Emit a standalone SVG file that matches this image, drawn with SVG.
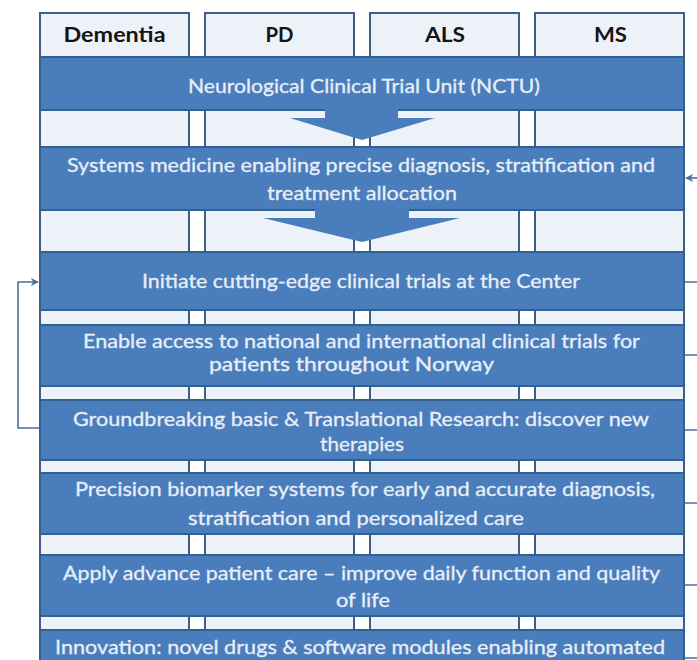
<svg xmlns="http://www.w3.org/2000/svg" width="697" height="660" viewBox="0 0 697 660">
  <style>
    .col { fill: #EDF1F8; stroke: #3D5E86; stroke-width: 2; }
    .band { fill: #4A7DBC; stroke: #34608F; stroke-width: 2; }
    .head { font-family: Lato, "Liberation Sans", sans-serif; font-weight: bold; font-size: 21px; fill: #141414; text-anchor: middle; }
    .lbl { font-family: Lato, "Liberation Sans", sans-serif; font-size: 19px; fill: #E8EEF7; stroke: #E8EEF7; stroke-width: 0.3; text-anchor: middle; }
    .blk { fill: #4A7DBC; }
    .wire { fill: none; stroke: #4A6E9C; stroke-width: 1.6; }
  </style>
  <defs>
    <marker id="tip" viewBox="0 0 10 10" refX="9" refY="5" markerWidth="8" markerHeight="8" markerUnits="userSpaceOnUse" orient="auto">
      <path d="M0,0 L10,5 L0,10 L3,5 z" fill="#4A6E9C"/>
    </marker>
  </defs>

  <!-- disease columns -->
  <g id="col-dementia"><rect class="col" x="40" y="13" width="149" height="700"/><text class="head" x="114.5" y="42" textLength="102" lengthAdjust="spacingAndGlyphs">Dementia</text></g>
  <g id="col-pd"><rect class="col" x="205" y="13" width="149" height="700"/><text class="head" x="279.5" y="42" textLength="28" lengthAdjust="spacingAndGlyphs">PD</text></g>
  <g id="col-als"><rect class="col" x="370" y="13" width="149" height="700"/><text class="head" x="445" y="42" textLength="40" lengthAdjust="spacingAndGlyphs">ALS</text></g>
  <g id="col-ms"><rect class="col" x="535" y="13" width="149" height="700"/><text class="head" x="610.5" y="42" textLength="33" lengthAdjust="spacingAndGlyphs">MS</text></g>

  <!-- horizontal bands -->
  <g id="nctu"><rect class="band" x="40" y="57" width="644" height="53"/>
    <text class="lbl" x="364" y="93" textLength="352" lengthAdjust="spacingAndGlyphs">Neurological Clinical Trial Unit (NCTU)</text></g>
  <g id="systems"><rect class="band" x="40" y="147" width="644" height="63"/>
    <text class="lbl" x="361" y="172" textLength="588" lengthAdjust="spacingAndGlyphs">Systems medicine enabling precise diagnosis, stratification and</text>
    <text class="lbl" x="362" y="200" textLength="190" lengthAdjust="spacingAndGlyphs">treatment allocation</text></g>
  <g id="initiate"><rect class="band" x="40" y="252" width="644" height="58"/>
    <text class="lbl" x="361" y="288" textLength="438" lengthAdjust="spacingAndGlyphs">Initiate cutting-edge clinical trials at the Center</text></g>
  <g id="access"><rect class="band" x="40" y="325" width="644" height="61"/>
    <text class="lbl" x="361.5" y="348" textLength="557" lengthAdjust="spacingAndGlyphs">Enable access to national and international clinical trials for</text>
    <text class="lbl" x="351.5" y="371" textLength="285" lengthAdjust="spacingAndGlyphs">patients throughout Norway</text></g>
  <g id="research"><rect class="band" x="40" y="400" width="644" height="60"/>
    <text class="lbl" x="361" y="426" textLength="576" lengthAdjust="spacingAndGlyphs">Groundbreaking basic &amp; Translational Research: discover new</text>
    <text class="lbl" x="362" y="451" textLength="84" lengthAdjust="spacingAndGlyphs">therapies</text></g>
  <g id="biomarker"><rect class="band" x="40" y="473" width="644" height="61"/>
    <text class="lbl" x="365" y="496" textLength="580" lengthAdjust="spacingAndGlyphs">Precision biomarker systems for early and accurate diagnosis,</text>
    <text class="lbl" x="356" y="525" textLength="336" lengthAdjust="spacingAndGlyphs">stratification and personalized care</text></g>
  <g id="care"><rect class="band" x="40" y="555" width="644" height="61"/>
    <text class="lbl" x="361.5" y="580" textLength="597" lengthAdjust="spacingAndGlyphs">Apply advance patient care – improve daily function and quality</text>
    <text class="lbl" x="363" y="607" textLength="54" lengthAdjust="spacingAndGlyphs">of life</text></g>
  <g id="innovation"><rect class="band" x="40" y="630" width="644" height="60"/>
    <text class="lbl" x="360" y="654" textLength="610" lengthAdjust="spacingAndGlyphs">Innovation: novel drugs &amp; software modules enabling automated</text></g>

  <!-- connectors -->
  <g id="connectors">
    <polygon class="blk" points="325,106 325,118 290,118 362,140 435,118 398,118 398,106"/>
    <polygon class="blk" points="315,206 315,218 263,218 362,242 460,218 409,218 409,206"/>
    <path class="wire" d="M39,428 H18 V282 H38" marker-end="url(#tip)"/>
    <path class="wire" d="M697,178 H686" marker-end="url(#tip)"/>
    <path class="wire" d="M685,282 H697 M685,355 H697 M685,430 H697 M685,503 H697 M685,585 H697 M685,658 H697"/>
  </g>
</svg>
